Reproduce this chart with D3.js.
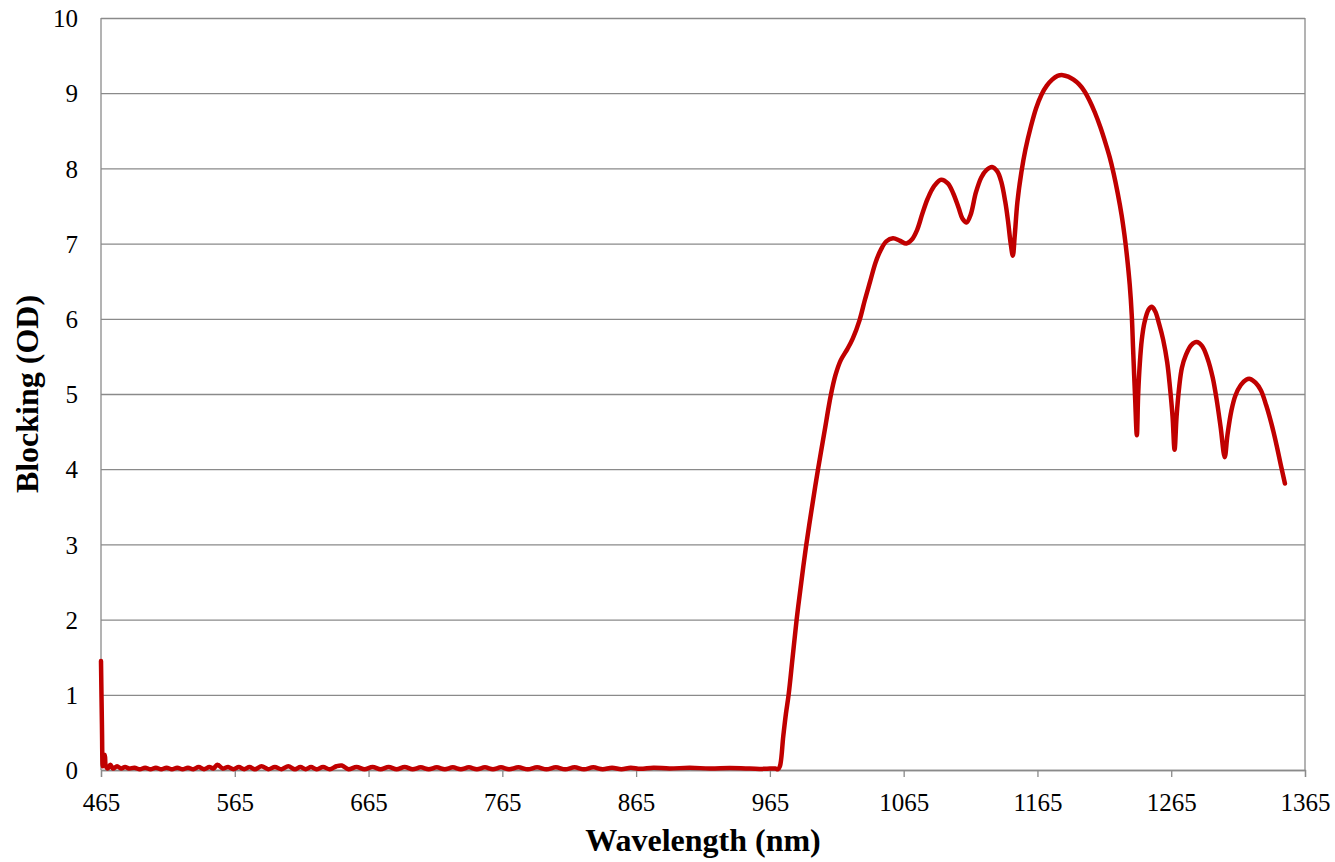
<!DOCTYPE html>
<html>
<head>
<meta charset="utf-8">
<script src="https://cdn.jsdelivr.net/npm/d3@7"></script>
<style>
  body { margin: 0; background: #fff; }
  svg text { font-family: "Liberation Serif", "Times New Roman", serif; fill: #000; }
</style>
</head>
<body>
<div id="vis1"></div>
<script>
// wavelength (nm)
const wavelength = [
  465, 465.7, 466.3, 467, 467.8, 468.6, 470, 472, 474, 477, 480, 483, 486, 490, 494, 498,
  502, 506, 510, 514, 518, 522, 526, 530, 534, 538, 542, 546, 549, 552, 556, 560, 564,
  568, 572, 576, 580, 585, 590, 595, 600, 605, 610, 614, 618, 622, 626, 631, 636, 641,
  645, 650, 656, 662, 668, 674, 680, 686, 692, 698, 704, 710, 716, 722, 728, 734, 740,
  746, 752, 758, 764, 770, 777, 784, 791, 798, 805, 812, 819, 826, 833, 840, 847, 854,
  861, 868, 878, 890, 905, 920, 935, 950, 960, 965,
  969, 971, 972.5, 975, 977, 979, 982, 985, 988.5, 992, 996.5, 1001, 1006, 1010.5, 1014, 1018,
  1023, 1027, 1032, 1036, 1040, 1044, 1048, 1052, 1057, 1062, 1067, 1071, 1075, 1079,
  1083, 1088, 1093, 1098, 1102, 1106, 1109, 1112, 1115, 1119, 1123, 1127, 1131, 1135,
  1138, 1141, 1143, 1145, 1146.6, 1148, 1150, 1153, 1156, 1160, 1164, 1168, 1172, 1176,
  1180, 1184, 1188, 1192, 1196, 1200, 1204, 1208, 1212, 1216, 1219, 1222, 1225, 1228,
  1230, 1232, 1234, 1235.5, 1236.5, 1238, 1239.3, 1240.3, 1241.5, 1243, 1245, 1248,
  1250.5, 1253, 1256, 1259, 1262, 1264, 1266, 1267.5, 1269, 1271, 1273, 1276, 1280,
  1284, 1288, 1292, 1296, 1299, 1302, 1305, 1307, 1310, 1313, 1317, 1321, 1324, 1328,
  1332, 1336, 1340, 1344, 1347, 1350
];

// blocking (OD) at each wavelength
const blocking = [
  1.45, 0.6, 0.05, 0.18, 0.2, 0.05, 0.02, 0.07, 0.02, 0.05, 0.02, 0.04, 0.02, 0.03, 0.01, 0.03,
  0.01, 0.03, 0.01, 0.03, 0.01, 0.03, 0.01, 0.03, 0.01, 0.04, 0.01, 0.04, 0.02, 0.07, 0.02, 0.04, 0.01,
  0.04, 0.01, 0.04, 0.01, 0.05, 0.01, 0.04, 0.01, 0.05, 0.01, 0.04, 0.01, 0.04, 0.01, 0.04, 0.01, 0.05,
  0.06, 0.01, 0.04, 0.01, 0.04, 0.01, 0.04, 0.01, 0.04, 0.01, 0.035, 0.01, 0.035, 0.01, 0.035, 0.01, 0.035,
  0.01, 0.035, 0.01, 0.035, 0.01, 0.035, 0.01, 0.035, 0.01, 0.035, 0.01, 0.035, 0.01, 0.035, 0.01, 0.03, 0.01,
  0.03, 0.015, 0.03, 0.02, 0.03, 0.02, 0.025, 0.02, 0.015, 0.02,
  0.02, 0.01, 0.05, 0.45, 0.75, 1.0, 1.5, 2.0, 2.5, 2.97, 3.5, 4.0, 4.52, 4.98, 5.25, 5.45,
  5.6, 5.74, 5.98, 6.25, 6.5, 6.75, 6.92, 7.03, 7.07, 7.04, 7.0, 7.05, 7.18, 7.4,
  7.6, 7.77, 7.85, 7.8, 7.67, 7.48, 7.33, 7.28, 7.38, 7.68, 7.88, 7.98, 8.02, 7.96,
  7.82, 7.55, 7.3, 7.0, 6.84, 7.1, 7.55, 7.95, 8.25, 8.55, 8.8, 8.98, 9.1, 9.18,
  9.23, 9.24, 9.22, 9.18, 9.12, 9.03, 8.9, 8.74, 8.55, 8.33, 8.15, 7.93, 7.67, 7.37,
  7.12, 6.82, 6.45, 6.05, 5.6, 4.95, 4.45, 5.0, 5.4, 5.72, 5.95, 6.12,
  6.16, 6.1, 5.93, 5.72, 5.42, 5.1, 4.7, 4.26, 4.7, 5.1, 5.35, 5.52, 5.65,
  5.69, 5.64, 5.48, 5.22, 4.92, 4.55, 4.16, 4.45, 4.78, 4.98, 5.12, 5.19, 5.2, 5.15,
  5.05, 4.85, 4.6, 4.3, 4.05, 3.81
];

const xTicks = [465, 565, 665, 765, 865, 965, 1065, 1165, 1265, 1365];
const yTicks = [0, 1, 2, 3, 4, 5, 6, 7, 8, 9, 10];

const FRAME_WIDTH = 1335;
const FRAME_HEIGHT = 862;
const MARGINS = {left: 101, right: 30, top: 18, bottom: 92};
const VIS_WIDTH = FRAME_WIDTH - MARGINS.left - MARGINS.right;
const VIS_HEIGHT = FRAME_HEIGHT - MARGINS.top - MARGINS.bottom;
const GRID = "#8a8a8a";

const svg = d3.select("#vis1")
  .append("svg")
  .attr("width", FRAME_WIDTH)
  .attr("height", FRAME_HEIGHT);

const VIS1 = svg.append("g")
  .attr("transform", `translate(${MARGINS.left}, ${MARGINS.top})`);

const xScale = d3.scaleLinear().domain([465, 1365]).range([0, VIS_WIDTH]);
const yScale = d3.scaleLinear().domain([0, 10]).range([VIS_HEIGHT, 0]);

// horizontal grid lines
VIS1.append("g")
  .call(d3.axisLeft(yScale).tickValues(yTicks).tickSize(-VIS_WIDTH).tickFormat(""))
  .call(g => g.select(".domain").remove())
  .call(g => g.selectAll("line").attr("stroke", GRID).attr("stroke-width", 1.3));

// y tick labels
VIS1.append("g")
  .call(d3.axisLeft(yScale).tickValues(yTicks).tickSize(0).tickPadding(23))
  .call(g => g.select(".domain").remove())
  .call(g => g.selectAll("text").attr("font-size", "25px").attr("font-family", "Liberation Serif").attr("dy", "0.35em"));

// x axis with outside ticks
VIS1.append("g")
  .attr("transform", `translate(0, ${VIS_HEIGHT})`)
  .call(d3.axisBottom(xScale).tickValues(xTicks).tickSize(7).tickPadding(16).tickFormat(d3.format("d")))
  .call(g => g.select(".domain").attr("stroke", GRID).attr("stroke-width", 1.3))
  .call(g => g.selectAll("line").attr("stroke", GRID).attr("stroke-width", 1.3))
  .call(g => g.selectAll("text").attr("font-size", "25px").attr("font-family", "Liberation Serif"));

// left and right border
VIS1.append("line")
  .attr("x1", 0).attr("x2", 0).attr("y1", 0).attr("y2", VIS_HEIGHT)
  .attr("stroke", GRID).attr("stroke-width", 1.3);
VIS1.append("line")
  .attr("x1", VIS_WIDTH).attr("x2", VIS_WIDTH).attr("y1", 0).attr("y2", VIS_HEIGHT)
  .attr("stroke", GRID).attr("stroke-width", 1.3);

// the curve
const points = wavelength.map((w, i) => ({w: w, v: blocking[i]}));
const line = d3.line()
  .x(d => xScale(d.w))
  .y(d => yScale(d.v))
  .curve(d3.curveCatmullRom.alpha(0.5));

VIS1.append("path")
  .datum(points)
  .attr("d", line)
  .attr("fill", "none")
  .attr("stroke", "#c00000")
  .attr("stroke-width", 4.5)
  .attr("stroke-linejoin", "round")
  .attr("stroke-linecap", "round");

// axis titles
svg.append("text")
  .attr("x", MARGINS.left + VIS_WIDTH / 2)
  .attr("y", 851)
  .attr("text-anchor", "middle")
  .attr("font-size", "32px")
  .attr("font-weight", "bold")
  .text("Wavelength (nm)");

svg.append("text")
  .attr("transform", `translate(38, ${MARGINS.top + VIS_HEIGHT / 2}) rotate(-90)`)
  .attr("text-anchor", "middle")
  .attr("font-size", "32px")
  .attr("font-weight", "bold")
  .text("Blocking (OD)");
</script>
</body>
</html>
